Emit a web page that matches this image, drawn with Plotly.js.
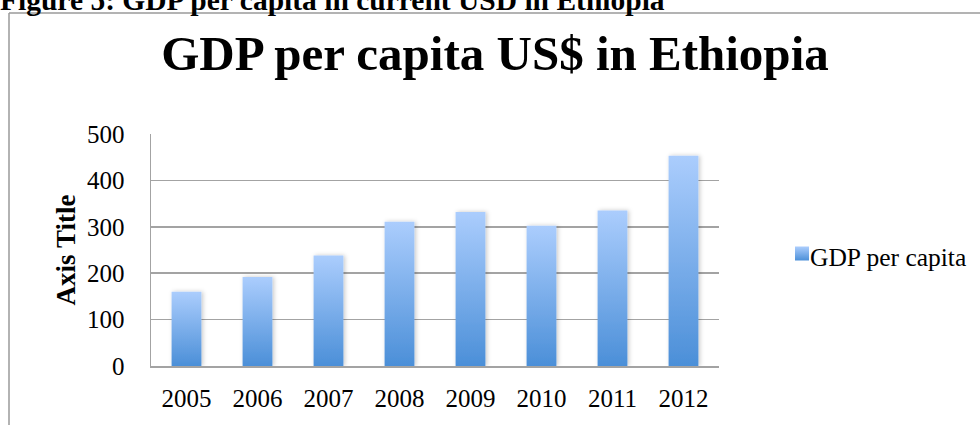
<!DOCTYPE html>
<html>
<head>
<meta charset="utf-8">
<script src="https://cdn.plot.ly/plotly-3.0.1.min.js"></script>
<style>
  html, body { margin: 0; padding: 0; background: #fff; }
  #chart { width: 980px; height: 425px; }
</style>
</head>
<body>
<div id="chart"></div>
<script>
// ---- data ----
const years = ['2005', '2006', '2007', '2008', '2009', '2010', '2011', '2012'];
const gdpPerCapita = [160, 192, 238, 311, 332, 302, 335, 453];
const seriesName = 'GDP per capita';
const chartTitle = 'GDP per capita US$ in Ethiopia';
const figureCaption = 'Figure 5: GDP per capita in current USD in Ethiopia';
const yAxisTitle = 'Axis Title';
const yTicks = [0, 100, 200, 300, 400, 500];

// ---- layout helpers (pixel -> paper) ----
const W = 980, H = 425;
const M = { l: 151, r: 261, t: 134, b: 59, autoexpand: false };
const PW = W - M.l - M.r, PH = H - M.t - M.b;
const px = x => (x - M.l) / PW;
const py = y => (H - M.b - y) / PH;

const serif = '"Liberation Serif", "Times New Roman", serif';
const gridCol = '#a3a3a3';

const trace = {
  type: 'bar',
  x: years,
  y: gdpPerCapita,
  name: seriesName,
  showlegend: true,
  marker: { color: '#79acea', line: { width: 0 } },
  hoverinfo: 'x+y'
};

const layout = {
  width: W, height: H,
  margin: M,
  paper_bgcolor: '#fff',
  plot_bgcolor: '#fff',
  font: { family: serif, color: '#000' },
  bargap: 0.58,
  showlegend: true,
  title: {
    text: '<b>' + chartTitle + '</b>',
    font: { family: serif, size: 49, color: '#000' },
    xref: 'paper', x: px(495), xanchor: 'center',
    yref: 'container', y: 1 - 53 / H, yanchor: 'middle',
    automargin: false
  },
  xaxis: {
    type: 'category',
    showgrid: false,
    showline: true, linecolor: gridCol, linewidth: 1.5,
    ticks: '',
    tickfont: { family: serif, size: 25, color: '#000' },
    ticklabelstandoff: 9,
    automargin: false,
    fixedrange: true
  },
  yaxis: {
    range: [0, 500],
    tickvals: yTicks,
    ticktext: yTicks.map(String),
    showgrid: true, gridcolor: gridCol, gridwidth: 1.5,
    showline: true, linecolor: gridCol, linewidth: 1.5,
    zeroline: false,
    ticks: '',
    tickfont: { family: serif, size: 25, color: '#000' },
    ticklabelstandoff: 20,
    title: {
      text: '<b>' + yAxisTitle + '</b>',
      font: { family: serif, size: 27, color: '#000' },
      standoff: 3
    },
    automargin: false,
    fixedrange: true
  },
  legend: {
    x: px(770), xanchor: 'left',
    y: py(256), yanchor: 'middle',
    font: { family: serif, size: 25.5, color: '#000' },
    bgcolor: 'rgba(0,0,0,0)',
    itemwidth: 30
  },
  annotations: [{
    text: '<b>' + figureCaption + '</b>',
    xref: 'paper', yref: 'paper',
    x: px(-2), xanchor: 'left',
    y: py(0), yanchor: 'middle',
    showarrow: false,
    font: { family: serif, size: 29.5, color: '#000' }
  }],
  shapes: [
    { type: 'line', xref: 'paper', yref: 'paper', x0: px(9), x1: px(990), y0: py(13), y1: py(13),
      line: { color: '#9a9a9a', width: 1.5 } },
    { type: 'line', xref: 'paper', yref: 'paper', x0: px(9), x1: px(9), y0: py(13), y1: py(440),
      line: { color: '#9a9a9a', width: 1.5 } }
  ]
};

Plotly.newPlot('chart', [trace], layout, { displayModeBar: false, staticPlot: true }).then(gd => {
  const NS = 'http://www.w3.org/2000/svg';
  const svg = gd.querySelector('svg.main-svg');
  const defs = document.createElementNS(NS, 'defs');
  defs.innerHTML =
    '<linearGradient id="barGrad" x1="0" y1="0" x2="0" y2="1">' +
      '<stop offset="0" stop-color="#abcdfd"/>' +
      '<stop offset="1" stop-color="#4b8fd8"/>' +
    '</linearGradient>' +
    '<filter id="barShadow" x="-30%" y="-10%" width="160%" height="120%">' +
      '<feDropShadow dx="1.5" dy="0" stdDeviation="2" flood-color="#000" flood-opacity="0.22"/>' +
    '</filter>';
  svg.insertBefore(defs, svg.firstChild);
  gd.querySelectorAll('.trace.bars .point path').forEach(p => {
    p.style.fill = 'url(#barGrad)';
    p.setAttribute('filter', 'url(#barShadow)');
  });
  // legend swatch: 14px square just left of the label
  gd.querySelectorAll('.legendpoints path').forEach(p => {
    p.setAttribute('d', 'M5,-9H19V5H5Z');
    p.style.fill = 'url(#barGrad)';
  });
});
</script>
</body>
</html>
